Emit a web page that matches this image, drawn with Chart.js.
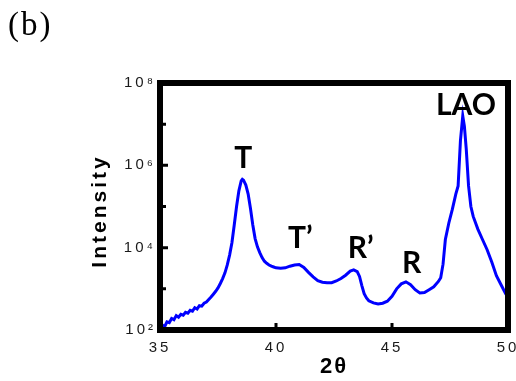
<!DOCTYPE html>
<html>
<head>
<meta charset="utf-8">
<script src="https://cdn.jsdelivr.net/npm/chart.js@4/dist/chart.umd.min.js"></script>
<style>
  html, body { margin: 0; padding: 0; background: #fff; }
  #wrap { position: relative; width: 516px; height: 381px; }
</style>
</head>
<body>
<div id="wrap"><canvas id="xrdChart"></canvas></div>
<script>
// XRD scan, panel (b)
const twoTheta = [
  35.0, 35.1, 35.2, 35.3, 35.4, 35.5, 35.6, 35.7, 35.8, 35.9,
  36.0, 36.1, 36.2, 36.3, 36.4, 36.5, 36.6, 36.7, 36.8, 36.9,
  37.0, 37.1, 37.2, 37.3, 37.4, 37.5, 37.6, 37.7, 37.8, 37.9,
  38.0, 38.1, 38.2, 38.3, 38.4, 38.5, 38.55, 38.6, 38.7, 38.8,
  38.9, 39.0, 39.1, 39.2, 39.3, 39.4, 39.5, 39.6, 39.7, 39.8,
  39.9, 40.0, 40.2, 40.4, 40.6, 40.8, 41.0, 41.2, 41.4, 41.6,
  41.8, 42.0, 42.2, 42.4, 42.6, 42.8, 43.0, 43.2, 43.35, 43.5,
  43.6, 43.7, 43.8, 43.9, 44.0, 44.2, 44.4, 44.6, 44.8, 45.0,
  45.2, 45.4, 45.6, 45.8, 46.0, 46.2, 46.4, 46.6, 46.8, 47.0,
  47.1, 47.2, 47.3, 47.45, 47.6, 47.75, 47.85, 47.95, 48.05, 48.12,
  48.2, 48.3, 48.4, 48.5, 48.7, 48.9, 49.1, 49.3, 49.5, 49.7,
  49.9, 50.0
];
const intensity = [
  105, 132, 120, 158, 151, 190, 178, 224, 204, 240,
  229, 269, 257, 302, 288, 347, 324, 389, 380, 447,
  479, 550, 631, 741, 871, 1050, 1350, 1780, 2450, 3800,
  6600, 13200, 35500, 100000, 240000, 417000, 457000, 436000, 331000, 200000,
  89000, 35500, 16600, 10500, 7600, 5750, 4680, 4170, 3800, 3550,
  3390, 3240, 3160, 3240, 3550, 3800, 3890, 3310, 2510, 1950,
  1580, 1450, 1410, 1410, 1550, 1780, 2140, 2690, 2880, 2630,
  2000, 1200, 760, 600, 513, 457, 427, 447, 501, 661,
  1000, 1320, 1480, 1260, 955, 794, 813, 955, 1120, 1510,
  1860, 3980, 15800, 39800, 85100, 200000, 316000, 3980000, 15800000, 8900000,
  2510000, 316000, 100000, 57500, 28200, 15800, 8900, 4470, 2090, 1260,
  760, 630
];

const xTicks = [35, 40, 45, 50];
const yTicks = [1e2, 1e3, 1e4, 1e5, 1e6, 1e7, 1e8];
const yTickLabels = { 100: '10²', 10000: '10⁴', 1000000: '10⁶', 100000000: '10⁸' };

// peak annotations (label baseline, in data units)
const peakNames = ['T', 'T’', 'R’', 'R', 'LAO'];
const peakX = [38.59, 41.05, 43.65, 45.85, 48.19];
const peakY = [8.5e5, 9.8e3, 5.6e3, 2.4e3, 1.66e7];

// frame, inward ticks, titles and peak labels
const decorations = {
    id: 'decorations',
    beforeDraw(chart) {
        chart.ctx.letterSpacing = '3px';
    },
    afterDatasetsDraw(chart) {
        const { ctx, chartArea: a, scales: { x, y } } = chart;
        ctx.save();
        ctx.letterSpacing = '0px';
        ctx.strokeStyle = '#000';
        ctx.lineWidth = 6;
        ctx.strokeRect(a.left, a.top, a.right - a.left, a.bottom - a.top);

        ctx.lineWidth = 3;
        ctx.beginPath();
        yTicks.forEach(v => {
            const py = y.getPixelForValue(v);
            ctx.moveTo(a.left, py);
            ctx.lineTo(a.left + (yTickLabels[v] ? 8 : 6), py);
        });
        xTicks.forEach(v => {
            const px = x.getPixelForValue(v);
            ctx.moveTo(px, a.bottom);
            ctx.lineTo(px, a.bottom - 7);
        });
        ctx.stroke();

        // peak labels
        ctx.fillStyle = '#000';
        ctx.font = 'bold 30px Lato';
        ctx.textAlign = 'center';
        ctx.textBaseline = 'alphabetic';
        peakNames.forEach((name, i) => {
            ctx.fillText(name, x.getPixelForValue(peakX[i]), y.getPixelForValue(peakY[i]));
        });

        // axis titles
        ctx.textBaseline = 'middle';
        ctx.font = 'bold 22px "Liberation Sans"';
        ctx.letterSpacing = '2px';
        ctx.fillText('2θ', 334, 367);

        ctx.save();
        ctx.translate(100, 211);
        ctx.rotate(-Math.PI / 2);
        ctx.font = 'bold 21px "Liberation Sans"';
        ctx.letterSpacing = '3px';
        ctx.fillText('Intensity', 0, 0);
        ctx.restore();

        // panel letter
        ctx.textAlign = 'left';
        ctx.textBaseline = 'alphabetic';
        ctx.font = '33px "Liberation Serif"';
        ctx.letterSpacing = '2px';
        ctx.fillText('(b)', 8, 35);
        ctx.restore();
    }
};

const ctx = document.getElementById('xrdChart').getContext('2d');
const xrdChart = new Chart(ctx, {
    type: 'line',
    data: {
        datasets: [{
            data: twoTheta.map((t, i) => ({ x: t, y: intensity[i] })),
            borderColor: '#0000ff',
            borderWidth: 3,
            pointRadius: 0,
            tension: 0,
            fill: false
        }]
    },
    options: {
        responsive: true,
        maintainAspectRatio: false,
        animation: false,
        layout: { padding: { top: 83, right: 8, left: 0, bottom: 0 } },
        plugins: {
            legend: { display: false },
            tooltip: { enabled: false }
        },
        scales: {
            x: {
                type: 'linear',
                min: 35,
                max: 50,
                afterBuildTicks: s => { s.ticks = xTicks.map(v => ({ value: v })); },
                afterFit: s => { s.height = 51; s.paddingLeft = 0; s.paddingRight = 0; },
                grid: { display: false, drawTicks: false },
                border: { display: false },
                ticks: {
                    autoSkip: false,
                    maxRotation: 0,
                    padding: 9,
                    color: '#1a1a1a',
                    font: { family: 'Liberation Sans', size: 15 }
                }
            },
            y: {
                type: 'logarithmic',
                min: 1e2,
                max: 1e8,
                afterBuildTicks: s => { s.ticks = yTicks.map(v => ({ value: v })); },
                afterFit: s => { s.width = 160; s.paddingTop = 0; s.paddingBottom = 0; },
                grid: { display: false, drawTicks: false },
                border: { display: false },
                ticks: {
                    autoSkip: false,
                    padding: 4,
                    color: '#1a1a1a',
                    font: { family: 'Liberation Sans', size: 15 },
                    callback: v => yTickLabels[v] || ''
                }
            }
        }
    },
    plugins: [decorations]
});
</script>
</body>
</html>
